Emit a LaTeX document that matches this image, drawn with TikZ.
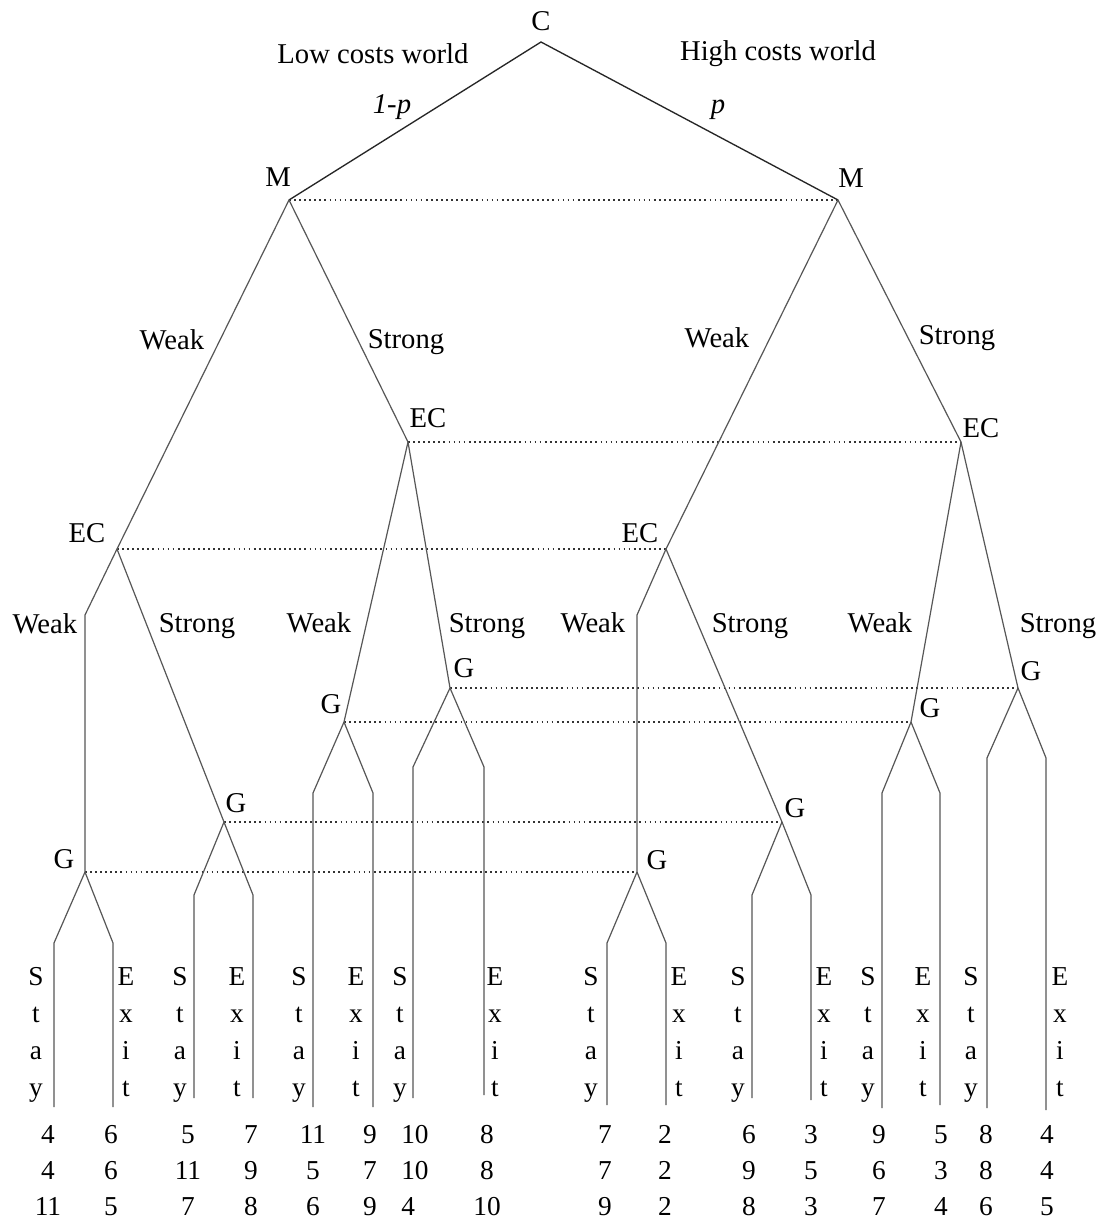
\documentclass[tikz,border=0pt]{standalone}
\usepackage{fontspec}
\setmainfont{Liberation Serif}
\newcommand\mkword[6]{%
  \foreach \c [count=\k] in {#3,#4,#5,#6}
    \node[term] (#1-\k) at (#2,948+37*\k) {\c};}
\newcommand\mkpay[5]{%
  \node[term] (#1a) at (#2,1143) {#3};
  \node[term] (#1b) at (#2,1179) {#4};
  \node[term] (#1c) at (#2,1215) {#5};}
\begin{document}
\begin{tikzpicture}[x=0.75pt,y=-0.75pt,
  edge/.style={draw=black!66, line width=0.9pt, line join=round},
  topedge/.style={draw=black!85, line width=1pt},
  info/.style={draw=black!80, line width=1.3pt, dash pattern=on 1.3pt off 2.5pt},
  lbl/.style={font=\fontsize{21.5}{25}\selectfont, inner sep=0pt, anchor=base},
  term/.style={font=\fontsize{20.5}{24}\selectfont, inner sep=0pt, anchor=base},
]
\fill[white] (0,0) rectangle (1104,1224);
\useasboundingbox (0,0) rectangle (1104,1224);

% ---- vertices
\coordinate (root) at (541,42);
\coordinate (mL) at (289,200);
\coordinate (mR) at (838,200);
\coordinate (ecA) at (117,549);
\coordinate (ecB) at (408,442);
\coordinate (ecC) at (666,549);
\coordinate (ecD) at (961,442);
\coordinate (bA) at (85,615);
\coordinate (bC) at (637,615);
\coordinate (gA) at (85,872);
\coordinate (gB) at (224,822);
\coordinate (gC) at (344,722);
\coordinate (gD) at (450,688);
\coordinate (gE) at (637,872);
\coordinate (gF) at (782,822);
\coordinate (gG) at (911,722);
\coordinate (gH) at (1018,688);

% terminal bend / end points
\coordinate (sAb) at (54,943);  \coordinate (sAe) at (54,1107);
\coordinate (eAb) at (113,943); \coordinate (eAe) at (113,1107);
\coordinate (sBb) at (194,895); \coordinate (sBe) at (194,1098);
\coordinate (eBb) at (253,895); \coordinate (eBe) at (253,1098);
\coordinate (sCb) at (313,793); \coordinate (sCe) at (313,1107);
\coordinate (eCb) at (373,793); \coordinate (eCe) at (373,1107);
\coordinate (sDb) at (413,767); \coordinate (sDe) at (413,1098);
\coordinate (eDb) at (484,767); \coordinate (eDe) at (484,1095);
\coordinate (sEb) at (607,943); \coordinate (sEe) at (607,1105);
\coordinate (eEb) at (666,943); \coordinate (eEe) at (666,1105);
\coordinate (sFb) at (752,895); \coordinate (sFe) at (752,1098);
\coordinate (eFb) at (811,895); \coordinate (eFe) at (811,1100);
\coordinate (sGb) at (882,793); \coordinate (sGe) at (882,1108);
\coordinate (eGb) at (940,793); \coordinate (eGe) at (940,1105);
\coordinate (sHb) at (987,758); \coordinate (sHe) at (987,1108);
\coordinate (eHb) at (1046,758); \coordinate (eHe) at (1046,1110);

% ---- information sets
\draw[info] (mL) -- (mR);
\draw[info] (ecB) -- (ecD);
\draw[info] (ecA) -- (ecC);
\draw[info] (gD) -- (gH);
\draw[info] (gC) -- (gG);
\draw[info] (gB) -- (gF);
\draw[info] (gA) -- (gE);

% ---- tree
\draw[topedge] (mL) -- (root) -- (mR);
\draw[edge] (ecA) -- (mL) -- (ecB);
\draw[edge] (ecC) -- (mR) -- (ecD);
\draw[edge] (ecA) -- (bA) -- (gA);
\draw[edge] (ecA) -- (gB);
\draw[edge] (ecB) -- (gC);
\draw[edge] (ecB) -- (gD);
\draw[edge] (ecC) -- (bC) -- (gE);
\draw[edge] (ecC) -- (gF);
\draw[edge] (ecD) -- (gG);
\draw[edge] (ecD) -- (gH);
\foreach \g in {A,B,C,D,E,F,G,H}{
  \draw[edge] (g\g) -- (s\g b) -- (s\g e);
  \draw[edge] (g\g) -- (e\g b) -- (e\g e);
}

% ---- labels
\node[lbl] (lC) at (541,31) {C};
\node[lbl] (lLow) at (373,63) {Low costs world};
\node[lbl] (lHigh) at (778,60) {High costs world};
\node[lbl] (l1p) at (392,113) {\textit{1-p}};
\node[lbl] (lp) at (718,113) {\textit{p}};
\node[lbl] (lML) at (278,186) {M};
\node[lbl] (lMR) at (851,187) {M};
\node[lbl] (w1) at (172,349) {Weak};
\node[lbl] (st1) at (406,348) {Strong};
\node[lbl] (w2) at (717,347) {Weak};
\node[lbl] (st2) at (957,344) {Strong};
\node[lbl] (lecB) at (428,427) {EC};
\node[lbl] (lecD) at (981,437) {EC};
\node[lbl] (lecA) at (87,542) {EC};
\node[lbl] (lecC) at (640,542) {EC};
\node[lbl] (w3) at (45,633) {Weak};
\node[lbl] (st3) at (197,632) {Strong};
\node[lbl] (w4) at (319,632) {Weak};
\node[lbl] (st4) at (487,632) {Strong};
\node[lbl] (w5) at (593,632) {Weak};
\node[lbl] (st5) at (750,632) {Strong};
\node[lbl] (w6) at (880,632) {Weak};
\node[lbl] (st6) at (1058,632) {Strong};
\node[lbl] (lgD) at (464,677) {G};
\node[lbl] (lgC) at (331,713) {G};
\node[lbl] (lgH) at (1031,680) {G};
\node[lbl] (lgG) at (930,717) {G};
\node[lbl] (lgB) at (236,812) {G};
\node[lbl] (lgF) at (795,817) {G};
\node[lbl] (lgA) at (64,868) {G};
\node[lbl] (lgE) at (657,869) {G};

% ---- terminal action words
\mkword{sA}{36}{S}{t}{a}{y}
\mkword{eA}{126}{E}{x}{i}{t}
\mkword{sB}{180}{S}{t}{a}{y}
\mkword{eB}{237}{E}{x}{i}{t}
\mkword{sC}{299}{S}{t}{a}{y}
\mkword{eC}{356}{E}{x}{i}{t}
\mkword{sD}{400}{S}{t}{a}{y}
\mkword{eD}{495}{E}{x}{i}{t}
\mkword{sE}{591}{S}{t}{a}{y}
\mkword{eE}{679}{E}{x}{i}{t}
\mkword{sF}{738}{S}{t}{a}{y}
\mkword{eF}{824}{E}{x}{i}{t}
\mkword{sG}{868}{S}{t}{a}{y}
\mkword{eG}{923}{E}{x}{i}{t}
\mkword{sH}{971}{S}{t}{a}{y}
\mkword{eH}{1060}{E}{x}{i}{t}

% ---- payoffs
\mkpay{p1}{48}{4}{4}{11}
\mkpay{p2}{111}{6}{6}{5}
\mkpay{p3}{188}{5}{11}{7}
\mkpay{p4}{251}{7}{9}{8}
\mkpay{p5}{313}{11}{5}{6}
\mkpay{p6}{370}{9}{7}{9}
\node[term, anchor=base west] (p7a) at (401,1143) {10};
\node[term, anchor=base west] (p7b) at (401,1179) {10};
\node[term, anchor=base west] (p7c) at (401,1215) {4};
\mkpay{p8}{487}{8}{8}{10}
\mkpay{p9}{605}{7}{7}{9}
\mkpay{p10}{665}{2}{2}{2}
\mkpay{p11}{749}{6}{9}{8}
\mkpay{p12}{811}{3}{5}{3}
\mkpay{p13}{879}{9}{6}{7}
\mkpay{p14}{941}{5}{3}{4}
\mkpay{p15}{986}{8}{8}{6}
\mkpay{p16}{1047}{4}{4}{5}
\end{tikzpicture}
\end{document}
